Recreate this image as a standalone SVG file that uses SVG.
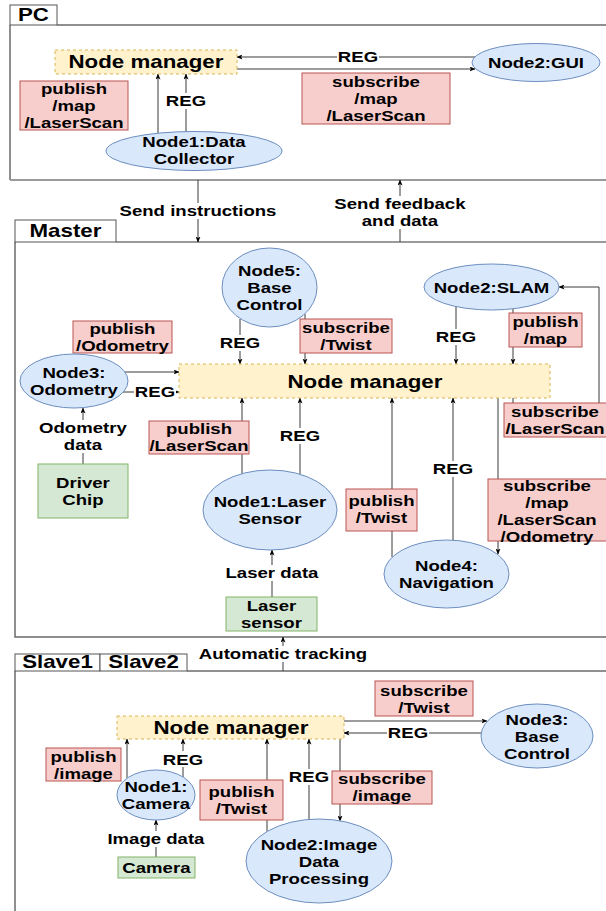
<svg xmlns="http://www.w3.org/2000/svg" width="606" height="911" viewBox="0 0 606 911">
  <style>
    .t { font-family: "Liberation Sans", Arial, Helvetica, sans-serif; font-weight: bold; font-size: 15px; fill: #000; text-anchor: middle; transform-box: fill-box; transform-origin: center; transform: scaleX(1.24); }
    .big { font-size: 18px; }
    .nd { fill: #dae8fc; stroke: #6c8ebf; stroke-width: 1; }
    .rd { fill: #f8cecc; stroke: #b85450; stroke-width: 1; }
    .gr { fill: #d5e8d4; stroke: #82b366; stroke-width: 1; }
    .mgr { fill: #fff2cc; stroke: #d6b656; stroke-width: 1; stroke-dasharray: 3 3; }
    .tab { fill: #fff; stroke: #555; stroke-width: 1; }
    .frame { fill: none; stroke: #6b6b6b; stroke-width: 1.5; }
    .seam { fill: none; stroke: #9a9a9a; stroke-width: 2; }
    .ca { fill: none; stroke: #3a3a3a; stroke-width: 1; marker-end: url(#arr); }
    .lb { fill: #fff; }
  </style>
  <defs>
    <marker id="arr" viewBox="0 0 7 6" refX="6.5" refY="3" markerWidth="6" markerHeight="5" markerUnits="userSpaceOnUse" orient="auto">
      <path d="M0,0 L7,3 L0,6 L1.6,3 Z" fill="#000"/>
    </marker>
  </defs>

  <rect width="606" height="911" fill="#fff"/>

  <!-- containers -->
  <g id="pc-frame">
    <path class="frame" d="M57,25 H606 M10,25 V180"/>
    <path class="seam" d="M10,180 H606"/>
    <rect class="tab" x="10" y="5" width="47" height="20"/>
    <text class="t big" x="33.5" y="21.5">PC</text>
  </g>
  <g id="master-frame">
    <path class="seam" d="M116,242 H606"/>
    <path class="frame" d="M15,242 V637 H606"/>
    <rect class="tab" x="15" y="220" width="101" height="22"/>
    <text class="t big" x="65.5" y="237.5">Master</text>
  </g>
  <g id="slave-frame">
    <path class="frame" d="M187,671 H606 M15,671 V911"/>
    <rect class="tab" x="15" y="654" width="85" height="17"/>
    <rect class="tab" x="100" y="654" width="87" height="17"/>
    <text class="t big" x="57.5" y="668.5">Slave1</text>
    <text class="t big" x="143.5" y="668.5">Slave2</text>
  </g>

  <!-- connectors -->
  <g id="connectors">
    <!-- PC -->
    <path class="ca" d="M475,57 H237"/>
    <path class="ca" d="M237,69 H475"/>
    <path class="ca" d="M158,134 V74"/>
    <path class="ca" d="M186,132 V74"/>
    <!-- PC <-> Master -->
    <path class="ca" d="M198,180 V242"/>
    <path class="ca" d="M400,242 V180"/>
    <!-- Master -->
    <path class="ca" d="M240,319 V364"/>
    <path class="ca" d="M305,314 V364"/>
    <path class="ca" d="M125,372 H179"/>
    <path class="ca" d="M123,392 H179"/>
    <path class="ca" d="M83,464 V408"/>
    <path class="ca" d="M242,474 V398"/>
    <path class="ca" d="M300,474 V398"/>
    <path class="ca" d="M272,597 V550"/>
    <path class="ca" d="M456,307 V364"/>
    <path class="ca" d="M513,309 V364"/>
    <path class="ca" d="M513,398 V420 H599 V287 H559"/>
    <path class="ca" d="M498,398 V554"/>
    <path class="ca" d="M392,557 V398"/>
    <path class="ca" d="M453,540 V398"/>
    <!-- Master <-> Slave -->
    <path class="ca" d="M283,671 V637"/>
    <!-- Slave -->
    <path class="ca" d="M344,721 H487"/>
    <path class="ca" d="M481,733 H344"/>
    <path class="ca" d="M127,778 V739"/>
    <path class="ca" d="M183,777 V739"/>
    <path class="ca" d="M156,857 V820"/>
    <path class="ca" d="M267,832 V739"/>
    <path class="ca" d="M309,819 V739"/>
    <path class="ca" d="M340,739 V821"/>

    <!-- connector labels -->
    <rect class="lb" x="337" y="49" width="42" height="16"/>
    <text class="t" x="358" y="62.5">REG</text>
    <rect class="lb" x="165" y="93" width="42" height="16"/>
    <text class="t" x="186" y="106.5">REG</text>
    <rect class="lb" x="119" y="203" width="158" height="16"/>
    <text class="t" x="198" y="216.5">Send instructions</text>
    <rect class="lb" x="334" y="196" width="132" height="33"/>
    <text class="t" x="400" y="209.5">Send feedback<tspan x="400" dy="17">and data</tspan></text>
    <rect class="lb" x="219" y="335" width="42" height="16"/>
    <text class="t" x="240" y="348.5">REG</text>
    <rect class="lb" x="134" y="384" width="42" height="16"/>
    <text class="t" x="155" y="397.5">REG</text>
    <rect class="lb" x="38" y="420" width="90" height="33"/>
    <text class="t" x="83" y="433.5">Odometry<tspan x="83" dy="17">data</tspan></text>
    <rect class="lb" x="279" y="428" width="42" height="16"/>
    <text class="t" x="300" y="441.5">REG</text>
    <rect class="lb" x="225" y="565" width="94" height="16"/>
    <text class="t" x="272" y="578.5">Laser data</text>
    <rect class="lb" x="435" y="329" width="42" height="16"/>
    <text class="t" x="456" y="342.5">REG</text>
    <rect class="lb" x="432" y="461" width="42" height="16"/>
    <text class="t" x="453" y="474.5">REG</text>
    <rect class="lb" x="196" y="646" width="174" height="16"/>
    <text class="t" x="283" y="659.5">Automatic tracking</text>
    <rect class="lb" x="387" y="725" width="42" height="16"/>
    <text class="t" x="408" y="738.5">REG</text>
    <rect class="lb" x="162" y="751" width="42" height="16"/>
    <text class="t" x="183" y="764.5">REG</text>
    <rect class="lb" x="107" y="831" width="98" height="16"/>
    <text class="t" x="156" y="844.5">Image data</text>
    <rect class="lb" x="288" y="769" width="42" height="16"/>
    <text class="t" x="309" y="782.5">REG</text>
  </g>

  <!-- PC nodes -->
  <g id="pc-node-manager">
    <rect class="mgr" x="55" y="50" width="182" height="24"/>
    <text class="t big" x="146" y="68.5">Node manager</text>
  </g>
  <g id="pc-node2-gui">
    <ellipse class="nd" cx="536" cy="62.5" rx="64" ry="19"/>
    <text class="t" x="536" y="68">Node2:GUI</text>
  </g>
  <g id="pc-publish">
    <rect class="rd" x="20" y="81" width="108" height="49"/>
    <text class="t" x="74" y="94.5">publish<tspan x="74" dy="17">/map</tspan><tspan x="74" dy="17">/LaserScan</tspan></text>
  </g>
  <g id="pc-subscribe">
    <rect class="rd" x="302" y="73" width="148" height="51"/>
    <text class="t" x="376" y="87.5">subscribe<tspan x="376" dy="17">/map</tspan><tspan x="376" dy="17">/LaserScan</tspan></text>
  </g>
  <g id="pc-node1-collector">
    <ellipse class="nd" cx="194" cy="151" rx="88" ry="19.5"/>
    <text class="t" x="194" y="147.5">Node1:Data<tspan x="194" dy="17">Collector</tspan></text>
  </g>

  <!-- Master nodes -->
  <g id="m-node-manager">
    <rect class="mgr" x="179" y="364" width="371" height="34"/>
    <text class="t big" x="365" y="388.5">Node manager</text>
  </g>
  <g id="m-node5-base">
    <ellipse class="nd" cx="269.5" cy="287.5" rx="47.5" ry="39.5"/>
    <text class="t" x="269.5" y="276">Node5:<tspan x="269.5" dy="17">Base</tspan><tspan x="269.5" dy="17">Control</tspan></text>
  </g>
  <g id="m-sub-twist">
    <rect class="rd" x="300" y="319" width="92" height="34"/>
    <text class="t" x="346" y="333.5">subscribe<tspan x="346" dy="17">/Twist</tspan></text>
  </g>
  <g id="m-pub-odometry">
    <rect class="rd" x="73" y="321" width="99" height="32"/>
    <text class="t" x="122.5" y="334.5">publish<tspan x="122.5" dy="17">/Odometry</tspan></text>
  </g>
  <g id="m-node3-odometry">
    <ellipse class="nd" cx="74" cy="381" rx="54" ry="27"/>
    <text class="t" x="74" y="378.5">Node3:<tspan x="74" dy="17">Odometry</tspan></text>
  </g>
  <g id="m-driver-chip">
    <rect class="gr" x="38" y="464" width="90" height="54"/>
    <text class="t" x="83" y="488.5">Driver<tspan x="83" dy="17">Chip</tspan></text>
  </g>
  <g id="m-pub-laserscan">
    <rect class="rd" x="149" y="421" width="100" height="33"/>
    <text class="t" x="199" y="434.5">publish<tspan x="199" dy="17">/LaserScan</tspan></text>
  </g>
  <g id="m-node1-laser">
    <ellipse class="nd" cx="270" cy="510" rx="67" ry="40"/>
    <text class="t" x="270" y="507.5">Node1:Laser<tspan x="270" dy="17">Sensor</tspan></text>
  </g>
  <g id="m-laser-sensor">
    <rect class="gr" x="226" y="597" width="91" height="34"/>
    <text class="t" x="271.5" y="611.5">Laser<tspan x="271.5" dy="17">sensor</tspan></text>
  </g>
  <g id="m-node2-slam">
    <ellipse class="nd" cx="491.5" cy="287" rx="67.5" ry="23"/>
    <text class="t" x="491.5" y="293">Node2:SLAM</text>
  </g>
  <g id="m-pub-map">
    <rect class="rd" x="509" y="313" width="73" height="34"/>
    <text class="t" x="545.5" y="327.5">publish<tspan x="545.5" dy="17">/map</tspan></text>
  </g>
  <g id="m-sub-laserscan">
    <rect class="rd" x="504" y="403" width="104" height="34"/>
    <text class="t" x="555" y="417.5">subscribe<tspan x="555" dy="17">/LaserScan</tspan></text>
  </g>
  <g id="m-pub-twist">
    <rect class="rd" x="346" y="489" width="71" height="42"/>
    <text class="t" x="381.5" y="506.5">publish<tspan x="381.5" dy="17">/Twist</tspan></text>
  </g>
  <g id="m-sub-nav">
    <rect class="rd" x="488" y="479" width="120" height="62"/>
    <text class="t" x="547" y="491.5">subscribe<tspan x="547" dy="17">/map</tspan><tspan x="547" dy="17">/LaserScan</tspan><tspan x="547" dy="17">/Odometry</tspan></text>
  </g>
  <g id="m-node4-navigation">
    <ellipse class="nd" cx="446.5" cy="574" rx="62.5" ry="34"/>
    <text class="t" x="446.5" y="571.5">Node4:<tspan x="446.5" dy="17">Navigation</tspan></text>
  </g>

  <!-- Slave nodes -->
  <g id="s-node-manager">
    <rect class="mgr" x="117" y="716" width="227" height="23"/>
    <text class="t big" x="231" y="734">Node manager</text>
  </g>
  <g id="s-sub-twist">
    <rect class="rd" x="375" y="681" width="98" height="35"/>
    <text class="t" x="424" y="696.5">subscribe<tspan x="424" dy="17">/Twist</tspan></text>
  </g>
  <g id="s-node3-base">
    <ellipse class="nd" cx="537" cy="736" rx="56" ry="32"/>
    <text class="t" x="537" y="725.5">Node3:<tspan x="537" dy="17">Base</tspan><tspan x="537" dy="17">Control</tspan></text>
  </g>
  <g id="s-pub-image">
    <rect class="rd" x="46" y="748" width="75" height="33"/>
    <text class="t" x="83.5" y="762.5">publish<tspan x="83.5" dy="17">/image</tspan></text>
  </g>
  <g id="s-node1-camera">
    <ellipse class="nd" cx="156" cy="795" rx="39" ry="25"/>
    <text class="t" x="156" y="792.5">Node1:<tspan x="156" dy="17">Camera</tspan></text>
  </g>
  <g id="s-camera">
    <rect class="gr" x="118" y="857" width="77" height="21"/>
    <text class="t" x="156.5" y="873">Camera</text>
  </g>
  <g id="s-pub-twist">
    <rect class="rd" x="200" y="780" width="83" height="40"/>
    <text class="t" x="241.5" y="797.5">publish<tspan x="241.5" dy="17">/Twist</tspan></text>
  </g>
  <g id="s-sub-image">
    <rect class="rd" x="332" y="771" width="100" height="33"/>
    <text class="t" x="382" y="784.5">subscribe<tspan x="382" dy="17">/image</tspan></text>
  </g>
  <g id="s-node2-image">
    <ellipse class="nd" cx="319" cy="861" rx="73" ry="42"/>
    <text class="t" x="319" y="850.5">Node2:Image<tspan x="319" dy="17">Data</tspan><tspan x="319" dy="17">Processing</tspan></text>
  </g>
</svg>
